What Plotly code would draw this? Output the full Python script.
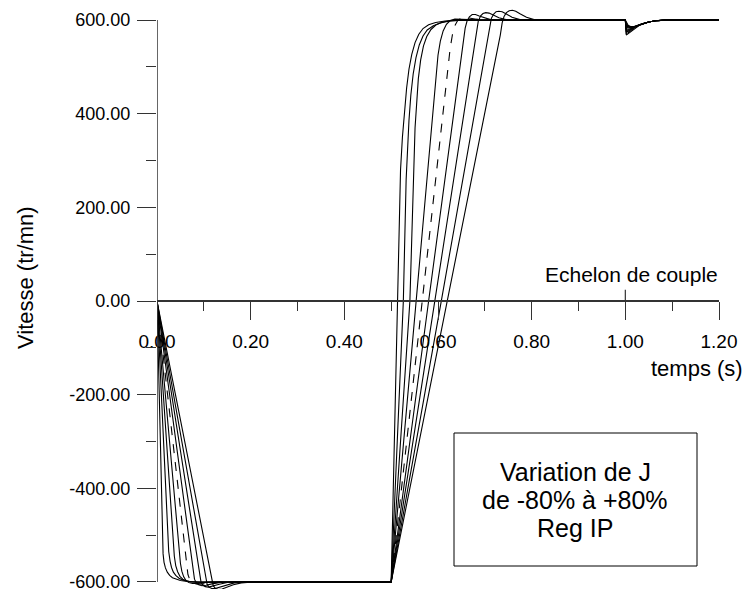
import plotly.graph_objects as go

# J factors (nominal = 1.0, dashed)
j_factors = [0.2, 0.4, 0.6, 0.8, 1.0, 1.2, 1.4, 1.6, 1.8]

# Speed responses (tr/mn): time (s) / speed, per J value
t_j02 = [0, 0.011, 0.013, 0.015, 0.018, 0.022, 0.027, 0.033, 0.04, 0.05, 0.065, 0.085, 0.5,
         0.513, 0.52, 0.524, 0.528, 0.533, 0.538, 0.544, 0.551, 0.559, 0.568, 0.58, 0.595, 0.615, 0.64, 1.0,
         1.002, 1.006, 1.012, 1.02, 1.03, 1.04, 1.05, 1.065, 1.085, 1.2]
v_j02 = [0, -500, -540, -558, -570, -579, -586, -591, -594, -597, -599, -600, -600,
         0, 280, 350, 405, 455, 495, 527, 552, 570, 582, 590, 595, 598, 600, 600,
         568, 571, 577, 583, 589, 593, 596, 598.5, 600, 600]

t_j04 = [0, 0.022, 0.025, 0.028, 0.031, 0.035, 0.04, 0.047, 0.056, 0.07, 0.09, 0.5,
         0.526, 0.532, 0.535, 0.538, 0.542, 0.547, 0.553, 0.56, 0.568, 0.577, 0.59, 0.605, 0.625, 0.65, 1.0,
         1.002, 1.006, 1.012, 1.02, 1.03, 1.04, 1.05, 1.065, 1.085, 1.2]
v_j04 = [0, -500, -535, -556, -569, -579, -586, -592, -596, -599, -600, -600,
         0, 260, 330, 385, 440, 485, 520, 547, 566, 579, 588, 594, 598, 600, 600,
         572, 573, 578, 584, 589, 593, 596, 598.5, 600, 600]

t_j06 = [0, 0.034, 0.037, 0.04, 0.044, 0.049, 0.055, 0.063, 0.075, 0.095, 0.12, 0.5,
         0.54, 0.551, 0.554, 0.558, 0.563, 0.569, 0.576, 0.585, 0.596, 0.61, 0.63, 0.66, 1.0,
         1.002, 1.006, 1.012, 1.02, 1.03, 1.04, 1.05, 1.065, 1.085, 1.2]
v_j06 = [0, -510, -545, -565, -578, -588, -594, -598, -600, -601, -600, -600,
         0, 370, 425, 475, 515, 545, 565, 580, 590, 596, 599, 600, 600,
         576, 576, 580, 585, 590, 593, 596, 598.5, 600, 600]

t_j08 = [0, 0.047, 0.05, 0.053, 0.057, 0.062, 0.068, 0.076, 0.088, 0.105, 0.13, 0.5,
         0.553, 0.592, 0.596, 0.6, 0.605, 0.611, 0.618, 0.626, 0.636, 0.648, 0.665, 0.69, 1.0,
         1.002, 1.006, 1.012, 1.02, 1.03, 1.04, 1.05, 1.065, 1.085, 1.2]
v_j08 = [0, -530, -560, -577, -589, -597, -601, -603, -603, -601, -600, -600,
         0, 440, 490, 525, 555, 577, 591, 599, 602, 602, 601, 600, 600,
         579, 578, 581, 585, 590, 593, 596, 598.5, 600, 600]

t_j10 = [0, 0.06, 0.063, 0.066, 0.07, 0.075, 0.081, 0.09, 0.1, 0.115, 0.14, 0.5,
         0.567, 0.618, 0.622, 0.626, 0.631, 0.636, 0.642, 0.649, 0.658, 0.668, 0.682, 0.7, 1.0,
         1.002, 1.006, 1.012, 1.02, 1.03, 1.04, 1.05, 1.065, 1.085, 1.2]
v_j10 = [0, -540, -568, -584, -595, -601, -604, -605, -604, -602, -600, -600,
         0, 460, 505, 540, 570, 588, 599, 604, 606, 605, 602, 600, 600,
         582, 580, 582, 586, 590, 593, 596, 598.5, 600, 600]

t_j12 = [0, 0.074, 0.077, 0.08, 0.084, 0.089, 0.096, 0.105, 0.117, 0.135, 0.16, 0.5,
         0.58, 0.65, 0.654, 0.658, 0.662, 0.667, 0.673, 0.68, 0.688, 0.698, 0.712, 0.735, 1.0,
         1.002, 1.006, 1.012, 1.02, 1.03, 1.04, 1.05, 1.065, 1.085, 1.2]
v_j12 = [0, -555, -580, -594, -602, -606, -608, -607, -604, -601, -600, -600,
         0, 525, 560, 583, 598, 607, 612, 612, 609, 605, 601, 600, 600,
         586, 583, 583, 586, 590, 593, 596, 598.5, 600, 600]

t_j14 = [0, 0.088, 0.091, 0.094, 0.098, 0.103, 0.11, 0.12, 0.133, 0.15, 0.175, 0.5,
         0.593, 0.678, 0.682, 0.686, 0.691, 0.696, 0.702, 0.709, 0.718, 0.73, 0.745, 0.77, 1.0,
         1.002, 1.006, 1.012, 1.02, 1.03, 1.04, 1.05, 1.065, 1.085, 1.2]
v_j14 = [0, -565, -588, -600, -607, -610, -611, -609, -605, -601, -600, -600,
         0, 550, 580, 598, 609, 614, 616, 615, 611, 605, 601, 600, 600,
         589, 585, 584, 586, 590, 593, 596, 598.5, 600, 600]

t_j16 = [0, 0.101, 0.104, 0.107, 0.111, 0.117, 0.124, 0.134, 0.147, 0.165, 0.19, 0.5,
         0.607, 0.706, 0.71, 0.714, 0.719, 0.724, 0.73, 0.737, 0.746, 0.758, 0.775, 0.8, 1.0,
         1.002, 1.006, 1.012, 1.02, 1.03, 1.04, 1.05, 1.065, 1.085, 1.2]
v_j16 = [0, -572, -594, -605, -611, -614, -614, -611, -606, -602, -600, -600,
         0, 560, 588, 604, 613, 618, 619, 618, 613, 606, 601, 600, 600,
         592, 587, 585, 587, 590, 593, 596, 598.5, 600, 600]

t_j18 = [0, 0.114, 0.117, 0.12, 0.125, 0.131, 0.139, 0.15, 0.163, 0.18, 0.205, 0.5,
         0.62, 0.733, 0.737, 0.741, 0.746, 0.752, 0.759, 0.766, 0.776, 0.789, 0.805, 0.83, 1.0,
         1.002, 1.006, 1.012, 1.02, 1.03, 1.04, 1.05, 1.065, 1.085, 1.2]
v_j18 = [0, -578, -598, -608, -614, -616, -615, -611, -606, -602, -600, -600,
         0, 568, 594, 608, 616, 620, 621, 619, 613, 606, 601, 600, 600,
         595, 589, 586, 587, 590, 593, 596, 598.5, 600, 600]

curves_t = [t_j02, t_j04, t_j06, t_j08, t_j10, t_j12, t_j14, t_j16, t_j18]
curves_v = [v_j02, v_j04, v_j06, v_j08, v_j10, v_j12, v_j14, v_j16, v_j18]

x_tickvals = [0, 0.2, 0.4, 0.6, 0.8, 1.0, 1.2]
x_ticktext = ["0.00", "0.20", "0.40", "0.60", "0.80", "1.00", "1.20"]
x_minor = [0.1, 0.3, 0.5, 0.7, 0.9, 1.1]
y_tickvals = [-600, -400, -200, 0, 200, 400, 600]
y_ticktext = ["-600.00", "-400.00", "-200.00", "0.00", "200.00", "400.00", "600.00"]
y_minor = [-500, -300, -100, 100, 300, 500]

W, H = 746, 592
ML, MR, MT, MB = 157, 27, 7, 3
YR = [-615, 628]
PW, PH = W - ML - MR, H - MT - MB


def px(x):
    return (x - ML) / PW


def py(y):
    return (H - MB - y) / PH


FONT = "Liberation Sans, Arial, Helvetica, sans-serif"
AX = "#333333"

fig = go.Figure()
for jf, tt, vv in zip(j_factors, curves_t, curves_v):
    fig.add_trace(go.Scatter(
        x=tt, y=vv, mode="lines", name=f"J x {jf}",
        line=dict(color="black", width=1.1,
                  dash="dash" if jf == 1.0 else "solid"),
        showlegend=False, hoverinfo="skip"))

fig.update_layout(
    width=W, height=H,
    margin=dict(l=ML, r=MR, t=MT, b=MB, autoexpand=False),
    plot_bgcolor="white", paper_bgcolor="white",
    font=dict(family=FONT, color="black", size=18),
    xaxis=dict(range=[0, 1.2], anchor="free", position=(0 - YR[0]) / (YR[1] - YR[0]),
               showgrid=False, zeroline=False, showline=True, linecolor=AX, linewidth=1.5,
               tickvals=x_tickvals, ticktext=x_ticktext, ticks="outside", ticklen=18,
               ticklabelstandoff=5, ticklabeloverflow="allow",
               tickwidth=1.2, tickcolor=AX, tickfont=dict(size=19),
               minor=dict(tickvals=x_minor, ticks="outside", ticklen=9, tickwidth=1.2, tickcolor=AX)),
    yaxis=dict(range=YR, showgrid=False, zeroline=False, showline=False,
               tickvals=y_tickvals, ticktext=y_ticktext, ticks="outside", ticklen=19,
               ticklabeloverflow="allow", ticklabelstandoff=3,
               tickwidth=1.2, tickcolor=AX, tickfont=dict(size=18),
               minor=dict(tickvals=y_minor, ticks="outside", ticklen=10, tickwidth=1.2, tickcolor=AX)),
)

shapes = [
    dict(type="line", xref="x", yref="y", x0=0, x1=0, y0=-600, y1=600,
         line=dict(color=AX, width=1.5)),
    dict(type="line", xref="x", yref="y", x0=1.0, x1=1.0, y0=0, y1=24,
         line=dict(color=AX, width=1.2)),
    dict(type="rect", xref="paper", yref="paper", x0=px(454), x1=px(697), y0=py(566), y1=py(433),
         line=dict(color="black", width=1), fillcolor="white", layer="above"),
]
fig.update_layout(shapes=shapes)

annots = [
    dict(text="Vitesse (tr/mn)", x=px(25), y=py(278), textangle=-90, font=dict(size=22)),
    dict(text="temps (s)", x=px(745), y=py(368), xanchor="right", font=dict(size=22)),
    dict(text="Echelon de couple", x=px(631), y=py(274), font=dict(size=21)),
    dict(text="Variation de J", x=px(575), y=py(472), font=dict(size=25)),
    dict(text="de -80% à +80%", x=px(575), y=py(500), font=dict(size=25)),
    dict(text="Reg IP", x=px(575), y=py(528), font=dict(size=25)),
]
for a in annots:
    a.update(xref="paper", yref="paper", showarrow=False)
    a.setdefault("xanchor", "center")
    a["yanchor"] = "middle"
fig.update_layout(annotations=annots)

fig.write_html("out.html", config={"displayModeBar": False},
               post_script="document.body.style.margin='0px';document.body.style.overflow='hidden';")
